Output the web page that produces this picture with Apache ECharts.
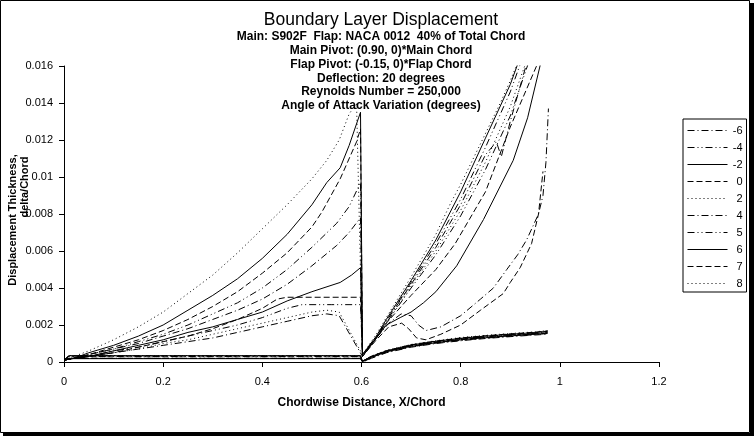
<!DOCTYPE html>
<html>
<head>
<meta charset="utf-8">
<script src="https://cdn.jsdelivr.net/npm/echarts@6/dist/echarts.min.js"></script>
<style>
html,body{margin:0;padding:0;background:#fff;}
#chart{width:754px;height:436px;}
</style>
</head>
<body>
<div id="chart"></div>
<script>
// ---------- DATA ----------
const angleNames = ['-6','-4','-2','0','2','4','5','6','7','8'];
const xTicks = [0, 0.2, 0.4, 0.6, 0.8, 1, 1.2];
const yTicks = [0, 0.002, 0.004, 0.006, 0.008, 0.01, 0.012, 0.014, 0.016];

// upper surfaces (main element upper, then flap upper), [x/chord, delta*/chord]
const up_m6 = [[0,0.0001],[0.02,0.0002],[0.05,0.0003],[0.1,0.0005],[0.15,0.0007],[0.2,0.0009],[0.25,0.0011],[0.3,0.0013],[0.35,0.0016],[0.4,0.0019],[0.45,0.0022],[0.5,0.0025],[0.53,0.0026],[0.555,0.0025],
  [0.602,0.0003],[0.63,0.0013],[0.655,0.0021],[0.68,0.0026],[0.70,0.0025],[0.715,0.0020],[0.73,0.0017],[0.76,0.0019],[0.80,0.0025],[0.84,0.0034],[0.866,0.0040],[0.893,0.0050],[0.915,0.0058],[0.933,0.0066],[0.957,0.0080],[0.966,0.0090],[0.972,0.0108],[0.977,0.0137]];
const up_m4 = [[0,0.0001],[0.02,0.0002],[0.05,0.0003],[0.1,0.0006],[0.15,0.0008],[0.2,0.0011],[0.25,0.0014],[0.3,0.0017],[0.35,0.0020],[0.4,0.0024],[0.45,0.0029],[0.48,0.0031],[0.54,0.0031],[0.598,0.0031],
  [0.602,0.0004],[0.63,0.0013],[0.65,0.0021],[0.70,0.0040],[0.75,0.0058],[0.80,0.0079],[0.85,0.0104],[0.90,0.0133],[0.95,0.0172]];
const up_m2 = [[0,0.0001],[0.02,0.0002],[0.05,0.0003],[0.1,0.0006],[0.15,0.0009],[0.2,0.0012],[0.25,0.0016],[0.3,0.0019],[0.35,0.0023],[0.4,0.0027],[0.45,0.0033],[0.5,0.0038],[0.557,0.0043],[0.58,0.0047],[0.598,0.0051],
  [0.602,0.0003],[0.65,0.0020],[0.678,0.0024],[0.70,0.0027],[0.725,0.0032],[0.75,0.0038],[0.792,0.0052],[0.846,0.0077],[0.906,0.0109],[0.935,0.0132],[0.96,0.0160],[0.97,0.0172]];
const up_0 = [[0,0.0001],[0.02,0.0002],[0.05,0.0003],[0.1,0.0005],[0.15,0.0008],[0.2,0.0011],[0.25,0.0014],[0.3,0.0018],[0.35,0.0023],[0.4,0.0029],[0.43,0.0034],[0.45,0.0035],[0.52,0.0035],[0.598,0.0035],
  [0.602,0.0003],[0.65,0.0021],[0.70,0.0036],[0.75,0.0050],[0.789,0.0064],[0.85,0.0092],[0.90,0.0127],[0.953,0.0160],[0.96,0.0168]];
const up_2 = [[0,0.0001],[0.02,0.0002],[0.05,0.0003],[0.1,0.0005],[0.15,0.0007],[0.2,0.0010],[0.25,0.0012],[0.3,0.0015],[0.35,0.0018],[0.4,0.0021],[0.45,0.0024],[0.5,0.0027],[0.53,0.0028],[0.555,0.0027],
  [0.602,0.0004],[0.63,0.0013],[0.65,0.0021],[0.70,0.0041],[0.75,0.0060],[0.80,0.0082],[0.85,0.0108],[0.90,0.0138],[0.945,0.0172]];
const up_4 = [[0,0.0001],[0.02,0.0002],[0.05,0.0004],[0.1,0.0007],[0.15,0.0010],[0.2,0.0014],[0.25,0.0018],[0.3,0.0023],[0.35,0.0028],[0.4,0.0034],[0.45,0.0042],[0.5,0.0052],[0.55,0.0063],[0.575,0.0070],[0.598,0.0078],
  [0.602,0.0004],[0.63,0.0013],[0.65,0.0022],[0.70,0.0042],[0.75,0.0062],[0.80,0.0085],[0.85,0.0112],[0.872,0.0119],[0.882,0.0111],[0.90,0.0130],[0.94,0.0168],[0.95,0.0178]];
const up_5 = [[0,0.0001],[0.02,0.0002],[0.05,0.0004],[0.1,0.0007],[0.15,0.0011],[0.2,0.0015],[0.25,0.0020],[0.3,0.0026],[0.35,0.0032],[0.4,0.0040],[0.45,0.0050],[0.5,0.0062],[0.55,0.0075],[0.575,0.0084],[0.598,0.0097],
  [0.602,0.0004],[0.63,0.0014],[0.65,0.0022],[0.70,0.0043],[0.75,0.0064],[0.80,0.0088],[0.85,0.0116],[0.90,0.0146],[0.935,0.0172]];
const up_6 = [[0,0.0001],[0.02,0.0002],[0.05,0.0005],[0.1,0.0009],[0.15,0.0014],[0.2,0.0020],[0.25,0.0028],[0.3,0.0036],[0.35,0.0045],[0.4,0.0056],[0.45,0.0069],[0.5,0.0085],[0.53,0.0097],[0.557,0.0105],[0.575,0.0117],[0.598,0.0135],
  [0.602,0.0004],[0.63,0.0014],[0.65,0.0023],[0.70,0.0044],[0.75,0.0066],[0.80,0.0092],[0.85,0.0121],[0.90,0.0150],[0.93,0.0172]];
const up_7 = [[0,0.0001],[0.02,0.0002],[0.05,0.0004],[0.1,0.0008],[0.15,0.0012],[0.2,0.0017],[0.25,0.0023],[0.3,0.0030],[0.35,0.0038],[0.4,0.0048],[0.45,0.0059],[0.5,0.0073],[0.52,0.0081],[0.557,0.0099],[0.59,0.0119],[0.598,0.0126],
  [0.602,0.0003],[0.63,0.0012],[0.655,0.0019],[0.681,0.0021],[0.695,0.0018],[0.711,0.0013],[0.73,0.0012],[0.76,0.0015],[0.80,0.0020],[0.84,0.0028],[0.886,0.0037],[0.90,0.0043],[0.92,0.0051],[0.943,0.0064],[0.957,0.0080],[0.966,0.0103]];
const up_8 = [[0,0.0001],[0.02,0.0003],[0.05,0.0006],[0.1,0.0012],[0.15,0.0019],[0.2,0.0027],[0.25,0.0037],[0.3,0.0047],[0.35,0.0059],[0.4,0.0072],[0.45,0.0085],[0.5,0.0099],[0.53,0.0109],[0.555,0.0120],[0.575,0.0134],[0.59,0.0140],
  [0.602,0.0004],[0.63,0.0015],[0.65,0.0024],[0.70,0.0046],[0.75,0.0069],[0.78,0.0086],[0.80,0.0096],[0.84,0.0118],[0.88,0.0140],[0.90,0.0152],[0.92,0.0165]];

// lower surfaces (main element lower, then flap lower)
const lo_m6 = [[0,0.0001],[0.01,0.0002],[0.3,0.0002],[0.598,0.0002],[0.602,0.0000],[0.62,0.0002],[0.65,0.0005],[0.70,0.0008],[0.75,0.0010],[0.80,0.00115],[0.85,0.00127],[0.90,0.00137],[0.95,0.00146],[0.975,0.0015]];
const lo_m4 = [[0,0.0001],[0.01,0.0003],[0.3,0.0003],[0.598,0.0003],[0.602,0.0000],[0.62,0.00022],[0.65,0.00052],[0.70,0.00082],[0.75,0.00102],[0.80,0.00117],[0.85,0.00129],[0.90,0.00139],[0.95,0.00148],[0.975,0.00154]];
const lo_m2 = [[0,0.0001],[0.01,0.00018],[0.3,0.00018],[0.598,0.00018],[0.602,0.00002],[0.62,0.00024],[0.65,0.00055],[0.70,0.00085],[0.75,0.00104],[0.80,0.0012],[0.85,0.00131],[0.90,0.00141],[0.95,0.0015],[0.975,0.00156]];
const lo_0 = [[0,0.0001],[0.01,0.00032],[0.3,0.00032],[0.598,0.00032],[0.602,0.00003],[0.62,0.00026],[0.65,0.00056],[0.70,0.00087],[0.75,0.00106],[0.80,0.00121],[0.85,0.00133],[0.90,0.00143],[0.95,0.00152],[0.975,0.00158]];
const lo_2 = [[0,0.0001],[0.01,0.0002],[0.3,0.0002],[0.598,0.0002],[0.602,0.00003],[0.62,0.00027],[0.65,0.00057],[0.70,0.00088],[0.75,0.00107],[0.80,0.00122],[0.85,0.00134],[0.90,0.00144],[0.95,0.00153],[0.975,0.0016]];
const lo_4 = [[0,0.0001],[0.01,0.00033],[0.3,0.00033],[0.598,0.00033],[0.602,0.00004],[0.62,0.00028],[0.65,0.00058],[0.70,0.00089],[0.75,0.00108],[0.80,0.00124],[0.85,0.00136],[0.90,0.00146],[0.95,0.00155],[0.975,0.00162]];
const lo_5 = [[0,0.0001],[0.01,0.00019],[0.3,0.00019],[0.598,0.00019],[0.602,0.00004],[0.62,0.00029],[0.65,0.00059],[0.70,0.0009],[0.75,0.0011],[0.80,0.00126],[0.85,0.00138],[0.90,0.00148],[0.95,0.00157],[0.975,0.00164]];
const lo_6 = [[0,0.0001],[0.01,0.00034],[0.3,0.00034],[0.598,0.00034],[0.602,0.00005],[0.62,0.0003],[0.65,0.0006],[0.70,0.00092],[0.75,0.00112],[0.80,0.00128],[0.85,0.0014],[0.90,0.0015],[0.95,0.00159],[0.975,0.00166]];
const lo_7 = [[0,0.0001],[0.01,0.0002],[0.3,0.0002],[0.598,0.0002],[0.602,0.00005],[0.62,0.00031],[0.65,0.00061],[0.70,0.00093],[0.75,0.00113],[0.80,0.0013],[0.85,0.00142],[0.90,0.00152],[0.95,0.00161],[0.975,0.00168]];
const lo_8 = [[0,0.0001],[0.01,0.00035],[0.3,0.00035],[0.598,0.00035],[0.602,0.00006],[0.62,0.00032],[0.65,0.00062],[0.70,0.00095],[0.75,0.00115],[0.80,0.00132],[0.85,0.00144],[0.90,0.00154],[0.95,0.00163],[0.975,0.0017]];

const titleText = 'Boundary Layer Displacement';
const subtitleLines = [
  'Main: S902F  Flap: NACA 0012  40% of Total Chord',
  'Main Pivot: (0.90, 0)*Main Chord',
  'Flap Pivot: (-0.15, 0)*Flap Chord',
  'Deflection: 20 degrees',
  'Reynolds Number = 250,000',
  'Angle of Attack Variation (degrees)'
];
const xAxisTitle = 'Chordwise Distance, X/Chord';
const yAxisTitleLines = ['Displacement Thickness,', 'delta/Chord'];

// ---------- STYLE ----------
const upper = [up_m6, up_m4, up_m2, up_0, up_2, up_4, up_5, up_6, up_7, up_8];
const lower = [lo_m6, lo_m4, lo_m2, lo_0, lo_2, lo_4, lo_5, lo_6, lo_7, lo_8];
const DASHDOT = [7,3,1,3], DASHDOTDOT = [7,3,1,3,1,3], DASH = [6,3], DOT = [1,3];
const dashes = [DASHDOT, DASHDOTDOT, 'solid', DASH, DOT, DASHDOT, DASHDOTDOT, 'solid', DASH, DOT];
const FONT = '"Liberation Sans", Arial, sans-serif';

const series = [];
angleNames.forEach((name, i) => {
  const ls = {color:'#000', width:1, type: dashes[i]};
  series.push({name, type:'line', data: upper[i], symbol:'none', showSymbol:false, lineStyle: ls, itemStyle:{color:'#000'}, animation:false, clip:true, z:2});
  series.push({name, type:'line', data: lower[i], symbol:'none', showSymbol:false, lineStyle: ls, itemStyle:{color:'#000'}, animation:false, clip:true, z:2});
});

const chart = echarts.init(document.getElementById('chart'), null, {renderer:'canvas'});
chart.setOption({
  backgroundColor:'#fff',
  animation:false,
  textStyle:{fontFamily:FONT, color:'#000'},
  grid:{left:64, top:66, width:595, height:296, containLabel:false},
  xAxis:{
    type:'value', min:xTicks[0], max:xTicks[xTicks.length-1], interval:0.2,
    axisLine:{onZero:false, lineStyle:{color:'#000', width:1}},
    axisTick:{show:true, length:5, lineStyle:{color:'#000'}},
    axisLabel:{color:'#000', fontSize:11, fontFamily:FONT, margin:14},
    splitLine:{show:false},
    name:xAxisTitle, nameLocation:'middle', nameGap:35,
    nameTextStyle:{color:'#000', fontSize:12, fontWeight:'bold', fontFamily:FONT}
  },
  yAxis:{
    type:'value', min:yTicks[0], max:yTicks[yTicks.length-1], interval:0.002,
    axisLine:{show:true, onZero:false, lineStyle:{color:'#000', width:1}},
    axisTick:{show:true, length:5, lineStyle:{color:'#000'}},
    axisLabel:{color:'#000', fontSize:11, fontFamily:FONT, margin:11},
    splitLine:{show:false}
  },
  legend:{
    data: angleNames, orient:'vertical', left:683, top:119,
    itemWidth:40, itemHeight:10, itemGap:6,
    padding:[6,4,3,4],
    borderColor:'#000', borderWidth:1, borderRadius:0, backgroundColor:'#fff',
    selectedMode:false,
    itemStyle:{opacity:0, borderWidth:0},
    lineStyle:{width:1, color:'#000'},
    formatter:'{a|{name}}',
    textStyle:{color:'#000', fontSize:11, fontFamily:FONT,
      rich:{a:{width:10, align:'right', fontSize:11, lineHeight:10, fontFamily:FONT, color:'#000'}}}
  },
  graphic:[
    {type:'rect', silent:true, z:100, shape:{x:0.5, y:0.5, width:749, height:432}, style:{fill:'none', stroke:'#000', lineWidth:1}},
    {type:'rect', silent:true, z:100, shape:{x:750, y:3, width:4, height:433}, style:{fill:'#000'}},
    {type:'rect', silent:true, z:100, shape:{x:3, y:433, width:751, height:3}, style:{fill:'#000'}},
    {type:'text', silent:true, z:100, x:381, y:20, style:{text:titleText, textAlign:'center', textVerticalAlign:'middle', font:'17.5px "Liberation Sans", Arial, sans-serif', fill:'#000'}},
    {type:'text', silent:true, z:100, x:381, y:30, style:{text:subtitleLines.join('\n'), textAlign:'center', textVerticalAlign:'top', lineHeight:13.8, font:'bold 12px "Liberation Sans", Arial, sans-serif', fill:'#000'}},
    {type:'text', silent:true, z:100, x:13, y:220, rotation:Math.PI/2, style:{text:yAxisTitleLines[0], textAlign:'center', textVerticalAlign:'middle', font:'bold 11px "Liberation Sans", Arial, sans-serif', fill:'#000'}},
    {type:'text', silent:true, z:100, x:25, y:187, rotation:Math.PI/2, style:{text:yAxisTitleLines[1], textAlign:'center', textVerticalAlign:'middle', font:'bold 11px "Liberation Sans", Arial, sans-serif', fill:'#000'}}
  ],
  series
});
</script>
</body>
</html>
